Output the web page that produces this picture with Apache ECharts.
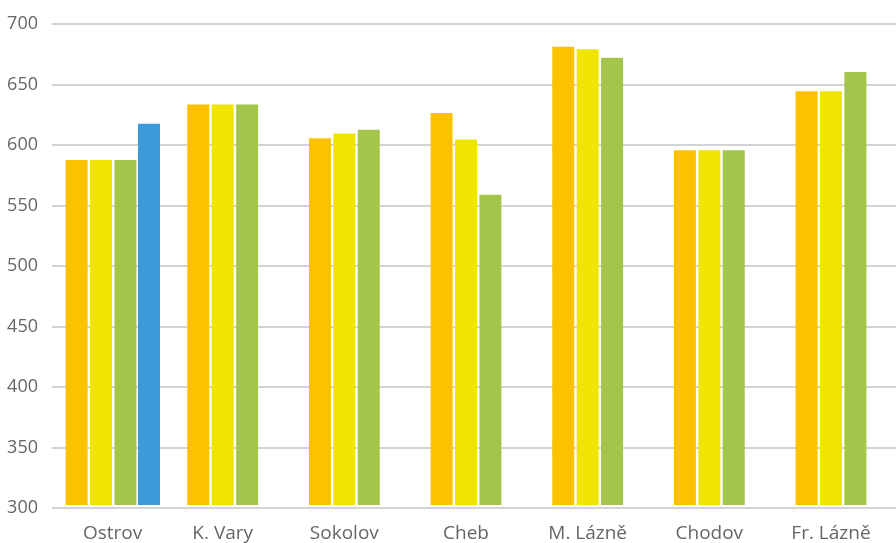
<!DOCTYPE html>
<html><head><meta charset="utf-8">
<script src="https://cdn.jsdelivr.net/npm/echarts@6/dist/echarts.min.js"></script>
<style>html,body{margin:0;padding:0;background:#fff}#c{width:896px;height:543px}</style>
</head><body><div id="c"></div>
<script>
var categories = ['Ostrov', 'K. Vary', 'Sokolov', 'Cheb', 'M. Lázně', 'Chodov', 'Fr. Lázně'];
var series1 = [587, 633, 605, 626, 681, 595, 644];
var series2 = [587, 633, 609, 604, 679, 595, 644];
var series3 = [587, 633, 612, 558, 672, 595, 660];
var series4 = [617, null, null, null, null, null, null];
var placeholder = [null, null, null, null, null, null, null];
var yTicks = { min: 300, max: 700, interval: 50 };

var font = '"Open Sans", sans-serif';
var chart = echarts.init(document.getElementById('c'));
chart.setOption({
  animation: false,
  grid: [
    { left: 52, right: 0, top: 24, bottom: 35 },
    { left: 40.2, right: 4.2, top: 24, bottom: 35 }
  ],
  yAxis: [
    { gridIndex: 0, type: 'value', min: yTicks.min, max: yTicks.max, interval: yTicks.interval,
      axisLine: { show: false }, axisTick: { show: false },
      axisLabel: { margin: 14, color: '#666', fontSize: 18, fontFamily: font },
      splitLine: { lineStyle: { color: '#c4c4c4', width: 1.5 } } },
    { gridIndex: 1, type: 'value', min: yTicks.min, max: yTicks.max, interval: yTicks.interval,
      show: false, splitLine: { show: false } }
  ],
  xAxis: [
    { gridIndex: 0, type: 'category', data: categories, show: false },
    { gridIndex: 1, type: 'category',
      data: categories.map(function (c, i) {
        return i === 0 ? { value: c, textStyle: { padding: [0, 0, 0, 23] } } : c;
      }),
      axisLine: { show: false }, axisTick: { show: false },
      axisLabel: { margin: 19, color: '#666', fontSize: 19, fontFamily: font, interval: 0 } },
    { gridIndex: 1, type: 'category', data: categories, show: false }
  ],
  series: [
    { type: 'bar', xAxisIndex: 1, yAxisIndex: 1, data: series1, barWidth: 22, barGap: '11%', itemStyle: { color: '#FCC200' } },
    { type: 'bar', xAxisIndex: 1, yAxisIndex: 1, data: series2, barWidth: 22, barGap: '11%', itemStyle: { color: '#F0E500' } },
    { type: 'bar', xAxisIndex: 1, yAxisIndex: 1, data: series3, barWidth: 22, barGap: '11%', itemStyle: { color: '#A3C64A' } },
    { type: 'bar', xAxisIndex: 2, yAxisIndex: 1, data: placeholder, barWidth: 22, barGap: '336%', itemStyle: { color: 'transparent' } },
    { type: 'bar', xAxisIndex: 2, yAxisIndex: 1, data: series4, barWidth: 22, barGap: '336%', itemStyle: { color: '#3B9AD7' } }
  ]
});
</script></body></html>
